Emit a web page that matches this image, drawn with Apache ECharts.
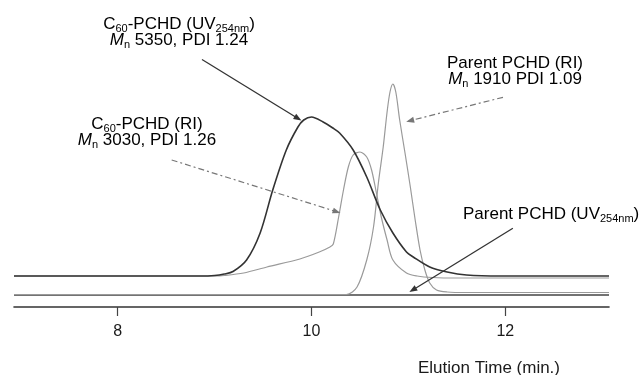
<!DOCTYPE html>
<html>
<head>
<meta charset="utf-8">
<script src="https://cdn.jsdelivr.net/npm/echarts@6/dist/echarts.min.js"></script>
<style>html,body{margin:0;padding:0;background:#fff}#c{width:640px;height:375px}</style>
</head>
<body>
<div id="c"></div>
<script>
// Elution time (min.) and detector signal (arbitrary units, offset traces)
const c60UvTime   = [6.93, 8.0, 8.5, 8.85, 9.0, 9.1, 9.19, 9.33, 9.47, 9.60, 9.74, 9.86, 9.92, 10.0, 10.12, 10.22, 10.29, 10.43, 10.57, 10.71, 10.84, 10.98, 11.05, 11.22, 11.40, 11.60, 11.95, 13.07];
const c60UvSignal = [31, 31, 31, 31, 31.5, 33, 35.5, 47, 74, 117, 157, 180, 187, 190, 185, 179, 174, 157, 130, 97, 74, 55, 50, 40, 35, 32, 31, 31];

const c60RiTime   = [6.93, 9.0, 9.1, 9.3, 9.54, 9.88, 10.08, 10.19, 10.225, 10.28, 10.33, 10.38, 10.43, 10.50, 10.57, 10.62, 10.67, 10.72, 10.78, 10.84, 10.98, 11.09, 11.25, 11.5, 13.07];
const c60RiSignal = [31, 31, 31.5, 34, 40, 48, 55, 60, 63, 90, 117, 140, 152, 155, 150, 137, 114, 90, 67, 47, 34, 31, 29.5, 29, 29];

const parentRiTime   = [6.93, 10.0, 10.36, 10.47, 10.57, 10.64, 10.69, 10.74, 10.78, 10.81, 10.84, 10.87, 10.91, 10.965, 11.02, 11.07, 11.12, 11.17, 11.22, 11.29, 11.40, 11.6, 13.07];
const parentRiSignal = [12.5, 12.5, 12.5, 20, 47, 80, 124, 160, 195, 215, 223, 215, 187, 154, 120, 87, 57, 37, 24, 17, 15, 14.5, 14.5];

const parentUvTime   = [6.93, 13.07];
const parentUvSignal = [12, 12];

const tickValues = [8, 10, 12];
const axisTitle = 'Elution Time (min.)';

// annotation arrows: [startTime, startSignal, endTime, endSignal]
const arrowC60Uv    = [8.870, 247.5, 9.861, 188.5];
const arrowC60Ri    = [8.557, 147, 10.260, 95.3];
const arrowParentRi = [11.976, 209.7, 11.017, 186.3];
const arrowParentUv = [12.078, 78.7, 11.045, 17];

const labelC60Uv    = '{n|C}{s|60}{n|-PCHD (UV}{s|254nm}{n|)}\n{i|M}{s|n}{n| 5350, PDI 1.24}';
const labelC60Ri    = '{n|C}{s|60}{n|-PCHD (RI)}\n{i|M}{s|n}{n| 3030, PDI 1.26}';
const labelParentRi = '{n|Parent PCHD (RI)}\n{i|M}{s|n}{n| 1910 PDI 1.09}';
const labelParentUv = '{n|Parent PCHD (UV}{s|254nm}{n|)}';

function zip(a, b) { return a.map((v, i) => [v, b[i]]); }

const FONT = '"Liberation Sans", Arial, sans-serif';
const rich = {
  n: { fontSize: 17, fontFamily: FONT, color: '#1a1a1a', lineHeight: 16 },
  i: { fontSize: 17, fontFamily: FONT, color: '#1a1a1a', fontStyle: 'italic', lineHeight: 16 },
  s: { fontSize: 11, fontFamily: FONT, color: '#1a1a1a', lineHeight: 6, verticalAlign: 'top', padding: [7, 0, 0, 0] }
};

function arrow(a, solid) {
  return [
    { coord: [a[0], a[1]], lineStyle: solid ? { color: '#333', width: 1.3, type: 'solid' } : { color: '#777', width: 1.2, type: [6, 3, 2, 3] } },
    { coord: [a[2], a[3]] }
  ];
}

const chart = echarts.init(document.getElementById('c'), null, { renderer: 'canvas' });
chart.setOption({
  animation: false,
  backgroundColor: '#fff',
  grid: { left: 14, right: 31, top: 7, bottom: 68 },
  xAxis: {
    type: 'value', min: 6.93, max: 13.07,
    splitLine: { show: false },
    axisLine: { show: true, lineStyle: { color: '#333', width: 1.6 } },
    axisTick: { show: true, inside: false, length: 9, customValues: tickValues, lineStyle: { color: '#444', width: 1.2 } },
    axisLabel: { customValues: tickValues, margin: 17, fontSize: 16, fontFamily: FONT, color: '#1a1a1a' }
  },
  yAxis: { type: 'value', min: 0, max: 300, show: false, splitLine: { show: false } },
  series: [
    { type: 'line', data: zip(parentUvTime, parentUvSignal), showSymbol: false, lineStyle: { color: '#444', width: 1.5 } },
    { type: 'line', data: zip(parentRiTime, parentRiSignal), showSymbol: false, smooth: 0.3, lineStyle: { color: '#9a9a9a', width: 1.2 } },
    { type: 'line', data: zip(c60RiTime, c60RiSignal), showSymbol: false, smooth: 0.3, lineStyle: { color: '#9a9a9a', width: 1.2 } },
    { type: 'line', data: zip(c60UvTime, c60UvSignal), showSymbol: false, smooth: 0.3, lineStyle: { color: '#333', width: 1.6 } },
    {
      type: 'line', data: [], silent: true,
      markLine: {
        silent: true, animation: false,
        symbol: ['none', 'triangle'], symbolSize: [6, 8],
        label: { show: false },
        data: [arrow(arrowC60Uv, true), arrow(arrowC60Ri, false), arrow(arrowParentRi, false), arrow(arrowParentUv, true)]
      }
    }
  ],
  graphic: [
    { type: 'text', x: 179, y: 32, style: { text: labelC60Uv, rich: rich, align: 'center', verticalAlign: 'middle' } },
    { type: 'text', x: 147, y: 132.5, style: { text: labelC60Ri, rich: rich, align: 'center', verticalAlign: 'middle' } },
    { type: 'text', x: 515, y: 71.3, style: { text: labelParentRi, rich: rich, align: 'center', verticalAlign: 'middle' } },
    { type: 'text', x: 463, y: 214, style: { text: labelParentUv, rich: rich, align: 'left', verticalAlign: 'middle' } },
    { type: 'text', x: 489, y: 368, style: { text: axisTitle, font: '17px ' + FONT, fill: '#1a1a1a', align: 'center', verticalAlign: 'middle' } }
  ]
});
</script>
</body>
</html>
